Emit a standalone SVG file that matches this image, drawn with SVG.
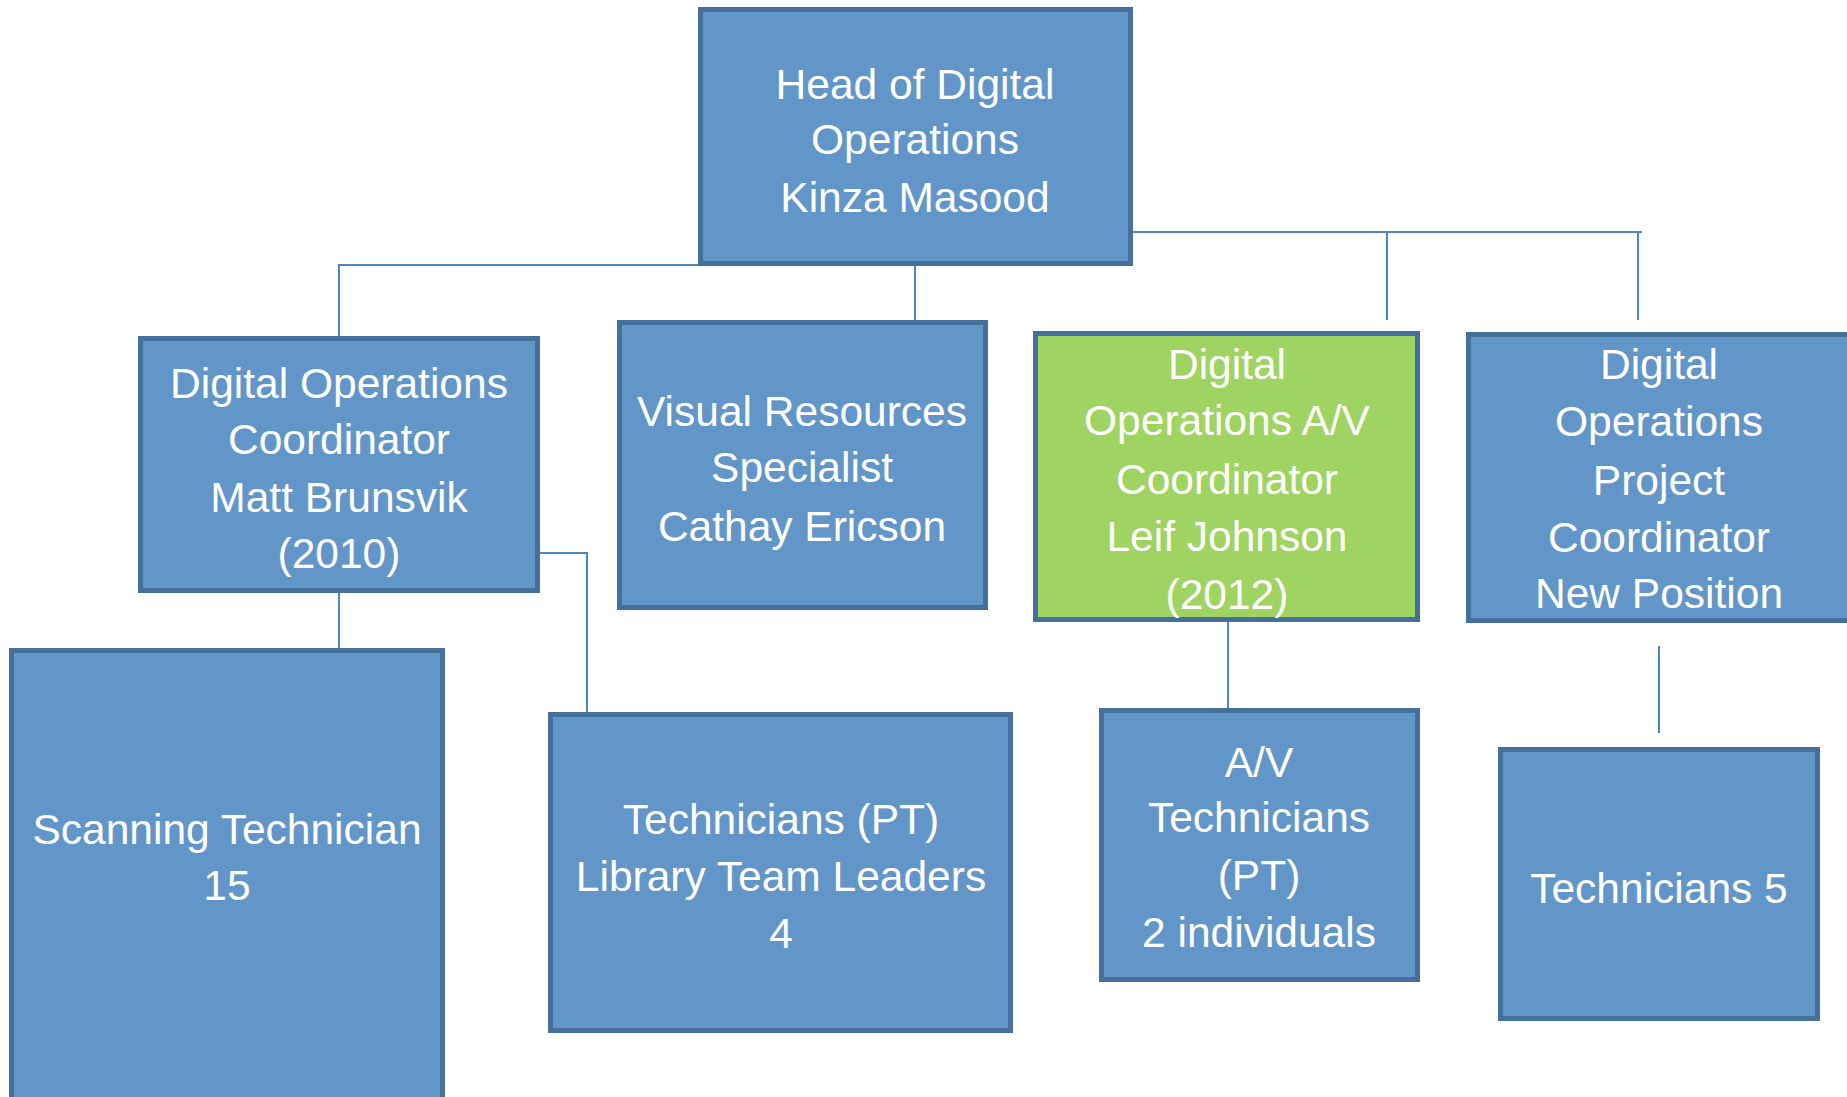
<svg xmlns="http://www.w3.org/2000/svg" width="1847" height="1097" viewBox="0 0 1847 1097">
<style>
.box{fill:#6396c8;stroke:#45709c;stroke-width:5}
.green{fill:#a0d462;stroke:#45709c;stroke-width:5}
.t{font-family:"Liberation Sans",Arial,sans-serif;font-size:42.5px;fill:#ffffff;text-anchor:middle}
.c{fill:none;stroke:#4f86c1;stroke-width:2}
</style>
<rect width="1847" height="1097" fill="#ffffff"/>
<g id="connectors">
<path class="c" d="M698,265 H339 V336"/>
<path class="c" d="M915,266 V320"/>
<path class="c" d="M1133,232 H1642"/>
<path class="c" d="M1387,232 V320"/>
<path class="c" d="M1638,232 V320"/>
<path class="c" d="M339,593 V648"/>
<path class="c" d="M540,553 H587 V712"/>
<path class="c" d="M1228,622 V708"/>
<path class="c" d="M1659,646 V733"/>
</g>
<g id="head">
<rect class="box" x="700.5" y="9.5" width="430" height="254"/>
<text class="t" x="915" y="99">Head of Digital</text>
<text class="t" x="915" y="154">Operations</text>
<text class="t" x="915" y="212">Kinza Masood</text>
</g>
<g id="coordinator">
<rect class="box" x="140.5" y="338.5" width="397" height="252"/>
<text class="t" x="339" y="398">Digital Operations</text>
<text class="t" x="339" y="454">Coordinator</text>
<text class="t" x="339" y="512">Matt Brunsvik</text>
<text class="t" x="339" y="568">(2010)</text>
</g>
<g id="visual">
<rect class="box" x="619.5" y="322.5" width="366" height="285"/>
<text class="t" x="802" y="426">Visual Resources</text>
<text class="t" x="802" y="482">Specialist</text>
<text class="t" x="802" y="541">Cathay Ericson</text>
</g>
<g id="av-coordinator">
<rect class="green" x="1035.5" y="333.5" width="382" height="286"/>
<text class="t" x="1227" y="379">Digital</text>
<text class="t" x="1227" y="435">Operations A/V</text>
<text class="t" x="1227" y="494">Coordinator</text>
<text class="t" x="1227" y="551">Leif Johnson</text>
<text class="t" x="1227" y="609">(2012)</text>
</g>
<g id="project-coordinator">
<rect class="box" x="1468.5" y="334.5" width="400" height="286"/>
<text class="t" x="1659" y="379">Digital</text>
<text class="t" x="1659" y="436">Operations</text>
<text class="t" x="1659" y="495">Project</text>
<text class="t" x="1659" y="552">Coordinator</text>
<text class="t" x="1659" y="608">New Position</text>
</g>
<g id="scanning">
<rect class="box" x="11.5" y="650.5" width="431" height="460"/>
<text class="t" x="227" y="844">Scanning Technician</text>
<text class="t" x="227" y="900">15</text>
</g>
<g id="technicians-pt">
<rect class="box" x="550.5" y="714.5" width="460" height="316"/>
<text class="t" x="781" y="834">Technicians (PT)</text>
<text class="t" x="781" y="891">Library Team Leaders</text>
<text class="t" x="781" y="948">4</text>
</g>
<g id="av-technicians">
<rect class="box" x="1101.5" y="710.5" width="316" height="269"/>
<text class="t" x="1259" y="777">A/V</text>
<text class="t" x="1259" y="832">Technicians</text>
<text class="t" x="1259" y="890">(PT)</text>
<text class="t" x="1259" y="947">2 individuals</text>
</g>
<g id="technicians-5">
<rect class="box" x="1500.5" y="749.5" width="317" height="269"/>
<text class="t" x="1659" y="903">Technicians 5</text>
</g>
</svg>
